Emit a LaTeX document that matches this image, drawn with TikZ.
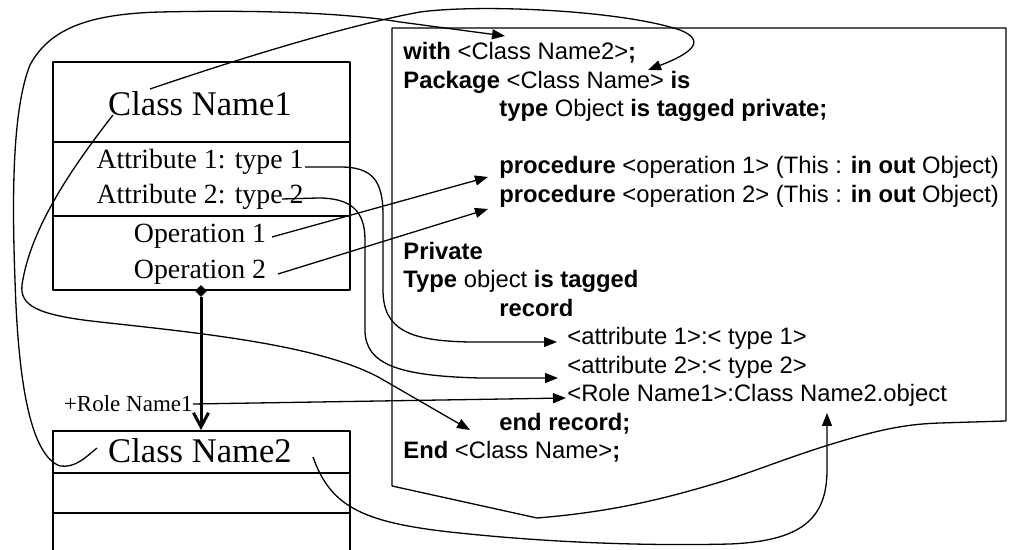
\documentclass[tikz,border=0pt]{standalone}
\usepackage{fontspec}
\setmainfont{Liberation Serif}
\newfontfamily\arialf{Liberation Sans}
\usetikzlibrary{arrows.meta,shapes.geometric}
\begin{document}
\begin{tikzpicture}[x=0.5pt,y=-0.5pt,line join=round,
  conn/.style={line width=0.65pt},
  arr/.style={conn,-{Triangle[length=6.5pt,width=5pt]}},
  box/.style={line width=0.65pt},
  cname/.style={font=\fontsize{17.3pt}{20pt}\selectfont,inner sep=0,anchor=base},
  uml/.style={font=\fontsize{13.9pt}{16pt}\selectfont,inner sep=0,anchor=base},
  code/.style={font=\arialf\fontsize{11.9pt}{14pt}\selectfont,inner sep=0,anchor=base west}]
\useasboundingbox (0,0) rectangle (1013,550);
\fill[white] (0,0) rectangle (1013,550);

% Class 1
\draw[box] (53,62) rectangle (350,290);
\draw[box] (53,142) -- (350,142);
\draw[box] (53,216) -- (350,216);
\node[cname] (cn1) at (200,116) {Class Name1};
\node[uml] (a1) at (200,168.5) {Attribute 1: type 1};
\node[uml] (a2) at (200,203.5) {Attribute 2: type 2};
\node[uml] (o1) at (200,242.5) {Operation 1};
\node[uml] (o2) at (200,278.5) {Operation 2};

% Class 2
\draw[box] (53,552) -- (53,431) -- (350,431) -- (350,552);
\draw[box] (53,473) -- (350,473);
\draw[box] (53,513) -- (350,513);
\node[cname] (cn2) at (200,463) {Class Name2};

% aggregation
\node[diamond,fill=black,inner sep=0,minimum width=6pt,minimum height=6pt] (dia) at (201,291) {};
\coordinate (c2top) at (201,430);
\draw[line width=1.5pt,-{Straight Barb[length=7pt,width=7.5pt]}] (dia.south) -- (c2top);
\node[font=\fontsize{11.5pt}{13pt}\selectfont,inner sep=0,anchor=base east] (role) at (193,412) {+Role Name1};

% code document
\draw[box] (1006,421) -- (1006,28) -- (392,28) -- (392,486) -- (537,518)
  .. controls (610,512) and (660,500) .. (717,483)
  .. controls (760,470) and (800,452) .. (863,435)
  .. controls (890,428) and (910,424) .. (940,423) -- cycle;

\node[code] (l0) at (403,60) {\textbf{with} <Class Name2>\textbf{;}};
\node[code] (l1) at (403,88.5) {\textbf{Package} <Class Name> \textbf{is}};
\node[code] (l2) at (499,117) {\textbf{type} Object \textbf{is tagged private;}};
\node[code] (l4) at (499,174) {\textbf{procedure} <operation 1> (This : \textbf{in out} Object)};
\node[code] (l5) at (499,202.5) {\textbf{procedure} <operation 2> (This : \textbf{in out} Object)};
\node[code] (l7) at (403,259.5) {\textbf{Private}};
\node[code] (l8) at (403,288) {\textbf{Type} object \textbf{is tagged}};
\node[code] (l9) at (499,316.5) {\textbf{record}};
\node[code] (l10) at (567,345) {<attribute 1>:< type 1>};
\node[code] (l11) at (567,373.5) {<attribute 2>:< type 2>};
\node[code] (l12) at (567,402) {<Role Name1>:Class Name2.object};
\node[code] (l13) at (499,430.5) {\textbf{end record;}};
\node[code] (l14) at (403,459) {\textbf{End} <Class Name>\textbf{;}};

% connector end points
\coordinate (A0) at (97,448);   \coordinate (withT) at (505,36);
\coordinate (B0) at (150,89);   \coordinate (pkgT) at (648,70);
\coordinate (C0) at (113,115);  \coordinate (endrT) at (470,430);
\coordinate (D0) at (305,167);  \coordinate (at1T) at (557,342);
\coordinate (E0) at (282,199);  \coordinate (at2T) at (558,378);
\coordinate (O1s) at (272,237); \coordinate (p1T) at (488,177);
\coordinate (O2s) at (278,274); \coordinate (p2T) at (488,209);
\coordinate (R0) at (193,404);  \coordinate (roleT) at (566,398);
\coordinate (F0) at (313,457);  \coordinate (objT) at (827,413);

% connectors
\draw[arr] (A0) .. controls (85,458) and (75,468) .. (60,466)
  .. controls (30,455) and (18,380) .. (15,280)
  .. controls (12,200) and (12,110) .. (30,65)
  .. controls (50,28) and (90,14) .. (160,12)
  .. controls (250,10) and (340,12) .. (400,22) -- (withT);
\draw[arr] (B0) .. controls (250,55) and (350,25) .. (420,12)
  .. controls (480,4) and (620,10) .. (680,30)
  .. controls (705,40) and (695,52) .. (pkgT);
\draw[arr] (C0) .. controls (70,170) and (30,230) .. (22,285)
  .. controls (20,305) and (35,315) .. (100,322)
  .. controls (200,333) and (320,345) .. (380,378) -- (endrT);
\draw[arr] (D0) -- (340,167) .. controls (372,167) and (383,180) .. (383,215)
  -- (383,290) .. controls (383,330) and (410,341) .. (470,342) -- (at1T);
\draw[arr] (E0) -- (318,198) .. controls (350,198) and (365,210) .. (365,240)
  -- (365,330) .. controls (365,365) and (400,376) .. (480,378) -- (at2T);
\draw[arr] (O1s) -- (p1T);
\draw[arr] (O2s) -- (p2T);
\draw[arr] (R0) -- (roleT);
\draw[arr] (F0) .. controls (330,505) and (360,522) .. (450,532)
  .. controls (550,543) and (650,546) .. (730,544)
  .. controls (800,541) and (827,520) .. (827,470) -- (objT);
\end{tikzpicture}
\end{document}
